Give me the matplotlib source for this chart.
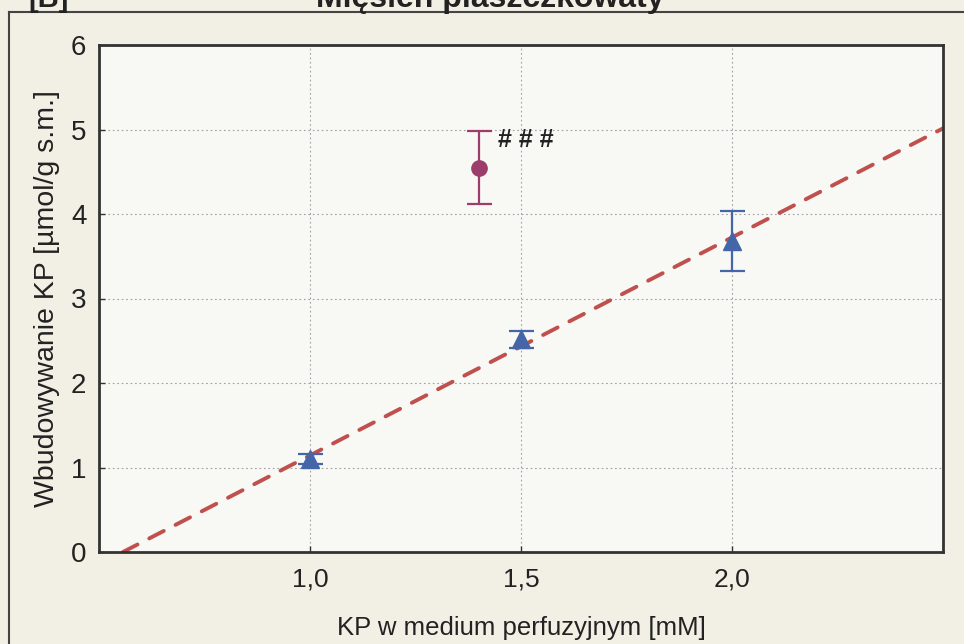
import numpy as np
import matplotlib
matplotlib.use("Agg")
import matplotlib.pyplot as plt
from matplotlib.lines import Line2D

# Data
tri_x = [1.0, 1.5, 2.0]
tri_y = [1.10, 2.52, 3.68]
tri_err = [0.06, 0.10, 0.35]
circ_x = [1.4]
circ_y = [4.55]
circ_err = [0.43]
x_ticks = [1.0, 1.5, 2.0]
x_ticklabels = ["1,0", "1,5", "2,0"]
y_ticks = [0, 1, 2, 3, 4, 5, 6]
title = "Mięsień płaszczkowaty"
panel = "[B]"
xlabel = "KP w medium perfuzyjnym [mM]"
ylabel = "Wbudowywanie KP [µmol/g s.m.]"
annot = "# # #"

plt.rcParams['font.family'] = ['Liberation Sans', 'DejaVu Sans']
narrow = ['Liberation Sans Narrow', 'Liberation Sans', 'DejaVu Sans']

fig = plt.figure(figsize=(9.64, 6.44), dpi=100)
fig.patch.set_facecolor('#f2efe4')
W, H = 964, 644
ax = fig.add_axes([99/W, (H-552)/H, (943-99)/W, (552-45)/H])
ax.set_facecolor('#f8f8f5')

# regression line through triangle means
b, a = np.polyfit(tri_x, tri_y, 1)
x0 = -a / b
xl = np.array([x0, 2.5])
ax.plot(xl, a + b*xl, color='#c0504d', lw=2.8, ls=(0, (4.2, 3.4)),
        dash_capstyle='round', zorder=2)

ax.errorbar(tri_x, tri_y, yerr=tri_err, fmt='^', color='#4466a8', ms=13,
            ecolor='#4466a8', elinewidth=1.6, capsize=9, capthick=1.6, zorder=3)
ax.errorbar(circ_x, circ_y, yerr=circ_err, fmt='o', color='#9c3d6c', ms=11,
            ecolor='#9c3d6c', elinewidth=1.6, capsize=9, capthick=1.6, zorder=3)

ax.text(1.445, 4.88, annot, fontsize=18, fontweight='bold', color='#222222',
        va='center', ha='left')

ax.set_xlim(0.5, 2.5)
ax.set_ylim(0, 6)
ax.set_xticks(x_ticks)
ax.set_xticklabels(x_ticklabels, fontfamily=narrow, fontsize=19)
ax.set_yticks(y_ticks)
ax.set_yticklabels([str(v) for v in y_ticks], fontsize=20)
ax.tick_params(axis='both', direction='in', length=4, width=1, color='#333333',
               labelcolor='#222222')
ax.tick_params(axis='y', pad=9)
ax.tick_params(axis='x', pad=11)
ax.grid(True, color='#a0a0a0', ls=(0, (1.5, 2.5)), lw=0.8)
for s in ax.spines.values():
    s.set_linewidth(2)
    s.set_color('#333333')

ax.set_xlabel(xlabel, fontfamily=narrow, fontsize=18.5, color='#222222', labelpad=18)
ax.set_ylabel(ylabel, fontsize=20.5, color='#222222', labelpad=8)

# outer frame (top and left edges visible)
fig.add_artist(Line2D([9/W, 9/W], [0, 1-12/H], color='#444444', lw=1.5,
                      transform=fig.transFigure))
fig.add_artist(Line2D([9/W, 1], [1-12/H, 1-12/H], color='#444444', lw=1.5,
                      transform=fig.transFigure))

fig.text(490/W, 1-7/H, title, fontsize=23, fontweight='bold', ha='center',
         va='baseline', color='#222222')
fig.text(28/W, 1-7/H, panel, fontsize=21, fontweight='bold', ha='left',
         va='baseline', color='#222222')

fig.savefig('out.png', dpi=100, facecolor=fig.get_facecolor())
